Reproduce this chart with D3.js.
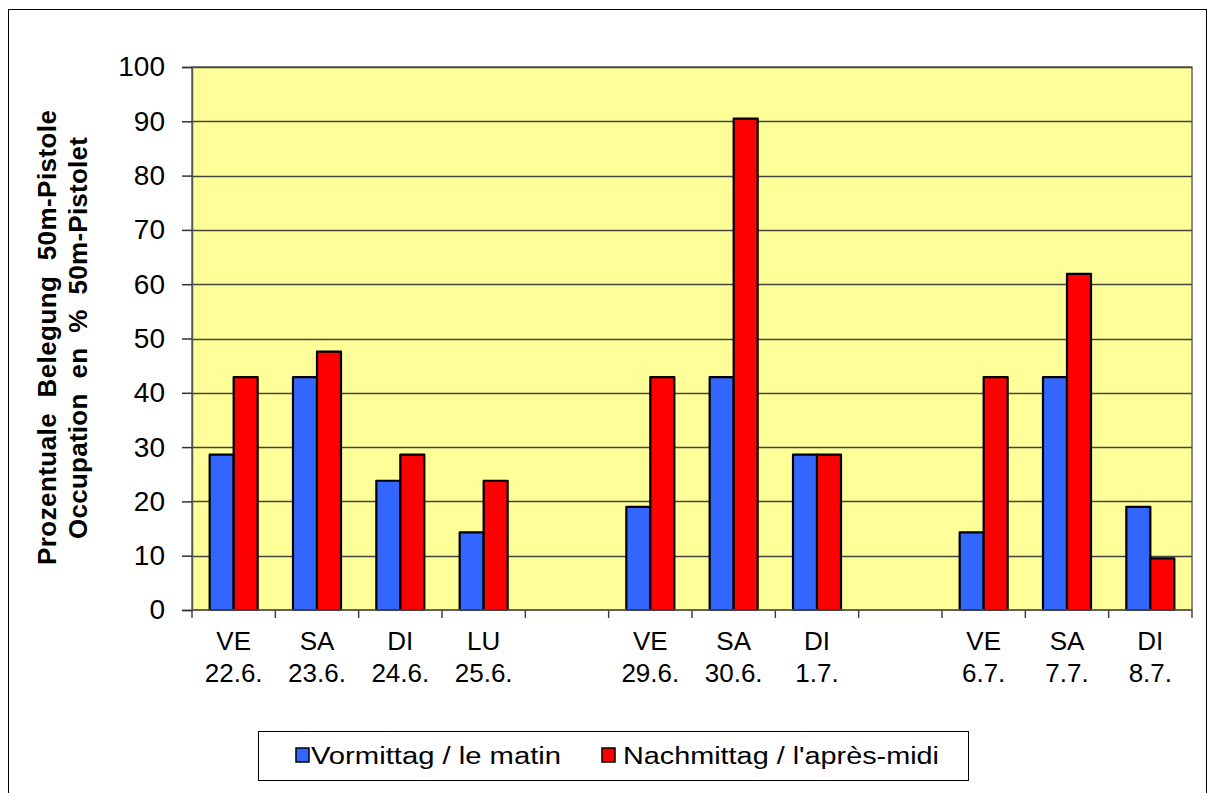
<!DOCTYPE html>
<html>
<head>
<meta charset="utf-8">
<script src="https://cdn.jsdelivr.net/npm/d3@7"></script>
<style>
  html,body{margin:0;padding:0;background:#fff;}
  svg{display:block;font-family:"Liberation Sans",Arial,sans-serif;}
</style>
</head>
<body>
<svg id="chart" width="1216" height="793"></svg>
<script>
// Belegung 50m-Pistole — Vormittag / Nachmittag pro Schiesstag
var days=["VE","SA","DI","LU","","VE","SA","DI","","VE","SA","DI"];
var dates=["22.6.","23.6.","24.6.","25.6.","","29.6.","30.6.","1.7.","","6.7.","7.7.","8.7."];
var morning=[28.6,42.9,23.8,14.3,null,19.0,42.9,28.6,null,14.3,42.9,19.0];
var afternoon=[42.9,47.6,28.6,23.8,null,42.9,90.5,28.6,null,42.9,61.9,9.5];
var seriesNames=["Vormittag / le matin","Nachmittag / l'après-midi"];
var seriesColors=["#3366FF","#FF0000"];
var yTicks=[0,10,20,30,40,50,60,70,80,90,100];

var svg=d3.select("#chart");
var L=192,R=1192,T=67,B=610;

// Rahmen
svg.append("rect").attr("x",8.5).attr("y",9.5).attr("width",1198).attr("height",790)
  .attr("fill","#fff").attr("stroke","#000").attr("stroke-width",1);

var idx=d3.range(days.length);
var x=d3.scaleBand().domain(idx).range([L,R]).paddingInner(0).paddingOuter(0);
var y=d3.scaleLinear().domain([0,100]).range([B,T]);

// Plotfläche
svg.append("rect").attr("x",L).attr("y",T).attr("width",R-L).attr("height",B-T)
  .attr("fill","#FFFF99").attr("stroke","#666").attr("stroke-width",1.5);

// Gitterlinien
svg.append("g").selectAll("line").data(yTicks.slice(1)).enter().append("line")
  .attr("x1",L).attr("x2",R).attr("y1",function(d){return Math.round(y(d))+0.5;})
  .attr("y2",function(d){return Math.round(y(d))+0.5;})
  .attr("stroke","#444").attr("stroke-width",1.6);

// Balken
var sub=d3.scaleBand().domain([0,1]).range([0,48]);
var off=(x.bandwidth()-48)/2;
var rows=[];
idx.forEach(function(i){
  if(morning[i]!=null)rows.push({i:i,s:0,v:morning[i]});
  if(afternoon[i]!=null)rows.push({i:i,s:1,v:afternoon[i]});
});
svg.append("g").selectAll("rect").data(rows).enter().append("rect")
  .attr("x",function(d){return x(d.i)+off+sub(d.s);})
  .attr("y",function(d){return y(d.v);})
  .attr("width",sub.bandwidth())
  .attr("height",function(d){return B-y(d.v);})
  .attr("fill",function(d){return seriesColors[d.s];})
  .attr("stroke","#000").attr("stroke-width",2.2).attr("stroke-linejoin","round");

// Y-Achse
var yAxis=svg.append("g").attr("transform","translate("+L+",0)")
  .call(d3.axisLeft(y).tickValues(yTicks).tickSize(10).tickPadding(17));
yAxis.select(".domain").attr("stroke","#555").attr("stroke-width",1.5);
yAxis.selectAll(".tick line").attr("stroke","#333").attr("stroke-width",1.5);
yAxis.selectAll(".tick text").attr("font-size",28).attr("fill","#000")
  .attr("font-family","'Liberation Sans',Arial,sans-serif");

// X-Achse (Ticks an den Kategoriegrenzen)
var bounds=d3.range(days.length+1).map(function(k){return L+k*x.step();});
svg.append("g").selectAll("line").data(bounds).enter().append("line")
  .attr("x1",function(d){return d;}).attr("x2",function(d){return d;})
  .attr("y1",B).attr("y2",B+8).attr("stroke","#444").attr("stroke-width",1.5);
svg.append("line").attr("x1",L).attr("x2",R).attr("y1",B).attr("y2",B)
  .attr("stroke","#555").attr("stroke-width",1.5);

var xl=svg.append("g").selectAll("text").data(idx).enter().append("text")
  .attr("x",function(i){return x(i)+x.bandwidth()/2;})
  .attr("text-anchor","middle").attr("font-size",26).attr("fill","#000");
xl.append("tspan").attr("x",function(i){return x(i)+x.bandwidth()/2;}).attr("y",650)
  .text(function(i){return days[i];});
xl.append("tspan").attr("x",function(i){return x(i)+x.bandwidth()/2;}).attr("y",682)
  .text(function(i){return dates[i];});

// Achsentitel
var yt=svg.append("g").attr("transform","translate(56,338) rotate(-90)")
  .attr("font-size",26).attr("font-weight","bold").attr("fill","#000");
yt.append("text").attr("x",-227).attr("y",0).attr("textLength",455).attr("lengthAdjust","spacing")
  .attr("xml:space","preserve").text("Prozentuale  Belegung  50m-Pistole");
yt.append("text").attr("x",-201).attr("y",31).attr("textLength",402).attr("lengthAdjust","spacing")
  .attr("xml:space","preserve").text("Occupation  en  %  50m-Pistolet");

// Legende
var lg=svg.append("g");
lg.append("rect").attr("x",258.5).attr("y",731.5).attr("width",710).attr("height",49)
  .attr("fill","#fff").attr("stroke","#000").attr("stroke-width",1);
var lgX=[296,602],lgLen=[250,316];
seriesNames.forEach(function(n,k){
  lg.append("rect").attr("x",lgX[k]).attr("y",748).attr("width",13).attr("height",14)
    .attr("fill",seriesColors[k]).attr("stroke","#000").attr("stroke-width",1.5);
  lg.append("text").attr("x",lgX[k]+(k?21:15)).attr("y",764).attr("font-size",23).attr("fill","#000")
    .attr("textLength",lgLen[k]).attr("lengthAdjust","spacingAndGlyphs").text(n);
});
</script>
</body>
</html>
